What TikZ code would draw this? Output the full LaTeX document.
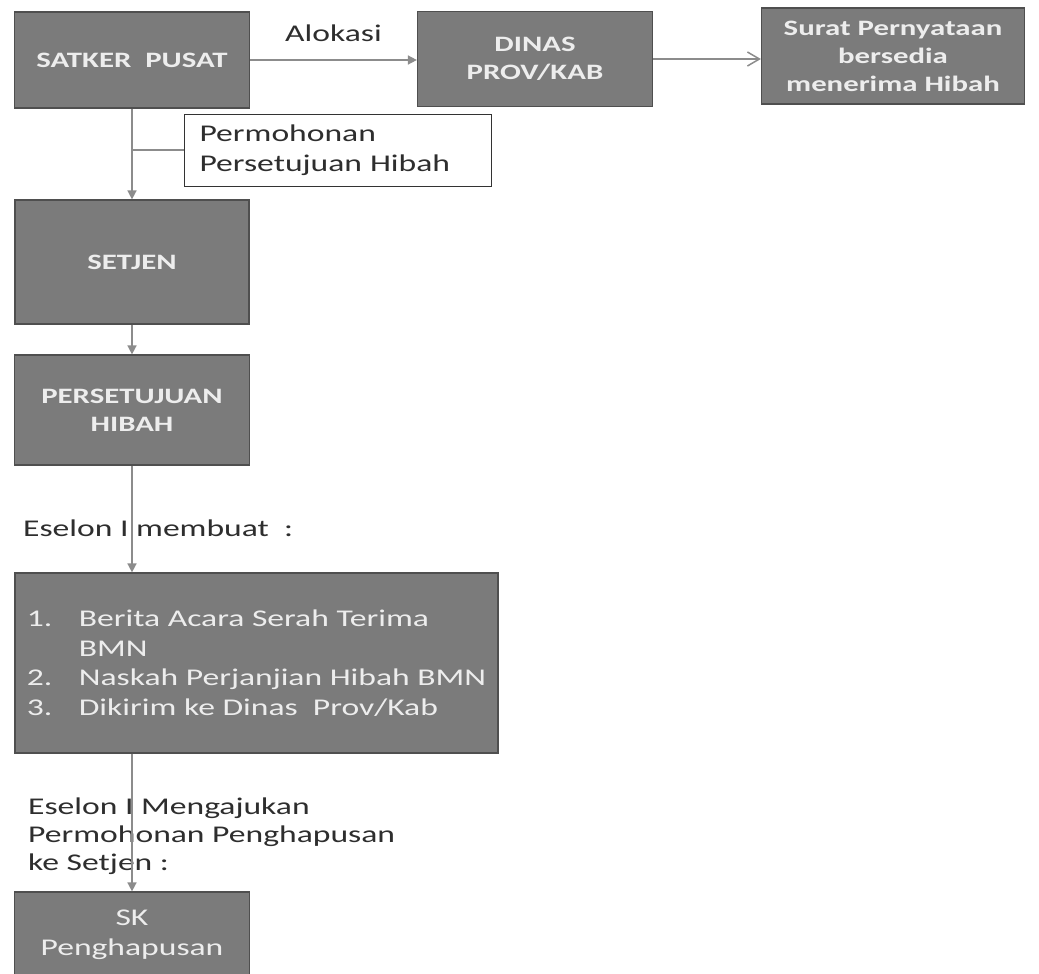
\documentclass[tikz,border=0pt]{standalone}
\usepackage{fontspec}
\setmainfont{Carlito}[FakeStretch=1.4]
\usetikzlibrary{arrows.meta}
\definecolor{boxgray}{HTML}{7B7B7B}
\definecolor{boxedge}{HTML}{4F4F4F}
\definecolor{linegray}{HTML}{8C8C8C}
\definecolor{boxtext}{HTML}{EDEDED}
\definecolor{lbltext}{HTML}{2E2E2E}

\begin{document}
\begin{tikzpicture}[x=1pt,y=-1pt,
  box/.style={rectangle, fill=boxgray, draw=boxedge, line width=1.2pt, text=boxtext, align=center, inner sep=0pt},
  note/.style={rectangle, fill=white, draw=black!80, line width=1pt, text=lbltext, align=left, inner xsep=15pt, text width=277pt},
  hd/.style={font=\fontsize{22}{28}\selectfont\bfseries},
  bd/.style={font=\fontsize{24}{29.5}\selectfont},
  lbl/.style={font=\fontsize{24}{28}\selectfont, text=lbltext, inner sep=0pt},
  flow/.style={draw=linegray, line width=1.5pt, -{Triangle[length=9pt,width=9pt]}},
  flowopen/.style={draw=linegray, line width=1.5pt, -{Straight Barb[length=12pt,width=14pt]}},
  link/.style={draw=linegray, line width=1.5pt}
]
\useasboundingbox[fill=white] (0,0) rectangle (1039,974);

% top row
\node [box, hd, minimum width=235pt, minimum height=96pt] (satker) at (132,60) {SATKER\ \ PUSAT};
\node [box, hd, minimum width=235pt, minimum height=95pt] (dinas) at (535,59) {DINAS\\PROV/KAB};
\node [box, hd, minimum width=263pt, minimum height=96pt] (surat) at (893,56) {Surat Pernyataan\\bersedia\\menerima Hibah};
\node [note, bd, minimum height=72pt] (perm) at (338,150) {Permohonan\\Persetujuan Hibah};

% column
\node [box, hd, minimum width=234pt, minimum height=124pt] (setjen) at (132,262) {SETJEN};
\node [box, hd, minimum width=235pt, minimum height=110pt] (pers) at (132,410) {PERSETUJUAN\\HIBAH};
\node [box, bd, align=left, minimum width=483pt, minimum height=180pt] (berita) at (256.5,663)
  {\makebox[52pt][l]{1.}Berita Acara Serah Terima\\
   \hspace*{52pt}BMN\\
   \makebox[52pt][l]{2.}Naskah Perjanjian Hibah BMN\\
   \makebox[52pt][l]{3.}Dikirim ke Dinas\ \ Prov/Kab};
\node [box, bd, minimum width=235pt, minimum height=86pt] (sk) at (132,935) {SK\\Penghapusan};

% labels
\node [lbl, anchor=west] (membuat) at (23,528) {Eselon I membuat\ \ :};
\node [lbl, anchor=west, align=left] (ajukan) at (28,836) {Eselon I Mengajukan\\Permohonan Penghapusan\\ke Setjen :};

% connectors
\draw [flow] (satker.east) -- node [lbl, above=18pt] (alokasi) {Alokasi} (dinas.west |- satker.east);
\draw [flowopen] (dinas.east) -- (surat.west |- dinas.east);
\draw [flow] (satker.south) -- (setjen.north);
\draw [link] (perm.west) -- (perm.west -| satker.south);
\draw [flow] (setjen.south) -- (pers.north);
\draw [flow] (pers.south) -- (pers.south |- berita.north);
\draw [flow] (berita.south -| sk.north) -- (sk.north);
\end{tikzpicture}
\end{document}
